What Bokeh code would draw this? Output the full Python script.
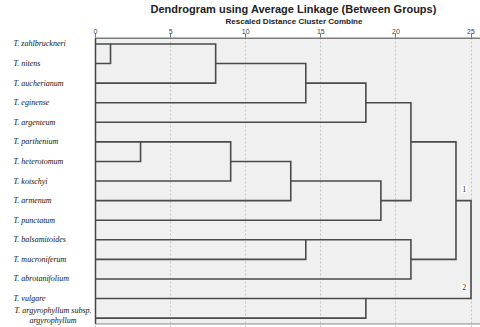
from bokeh.plotting import figure
from bokeh.models import Range1d, FixedTicker, Title, Label
from bokeh.embed import file_html
from bokeh.resources import INLINE
from bokeh.core.properties import value

# ---------------- data ----------------
species = [
    "T. zahlbruckneri", "T. nitens", "T. aucherianum", "T. eginense",
    "T. argenteum", "T. parthenium", "T. heterotomum", "T. kotschyi",
    "T. armenum", "T. punctatum", "T. balsamitoides", "T. mucroniferum",
    "T. abrotanifolium", "T. vulgare", "T. argyrophyllum subsp.\nargyrophyllum",
]
# agglomeration schedule (leaves 0..14, new clusters numbered 15, 16, ...)
merge_left = [0, 15, 16, 17, 5, 19, 20, 21, 18, 10, 24, 23, 13, 26]
merge_right = [1, 2, 3, 4, 6, 7, 8, 9, 22, 11, 12, 25, 14, 27]
merge_height = [1, 8, 14, 18, 3, 9, 13, 19, 21, 14, 21, 24, 18, 25]
x_ticks = [0, 5, 10, 15, 20, 25]
cluster_labels = ["1", "2"]
title_text = "Dendrogram using Average Linkage (Between Groups)"
subtitle_text = "Rescaled Distance Cluster Combine"

# ---------------- dendrogram geometry ----------------
n = len(species)
pos = list(range(n))
hgt = [0.0] * n
xs, ys = [], []
for a, b, h in zip(merge_left, merge_right, merge_height):
    xs.append([hgt[a], h, h, hgt[b]])
    ys.append([pos[a], pos[a], pos[b], pos[b]])
    pos.append((pos[a] + pos[b]) // 2)
    hgt.append(h)

# ---------------- figure ----------------
W, H = 480, 327
PX = 15.02          # pixels per distance unit
LEFT = 95           # pixel where distance 0 sits
x_start = -LEFT / PX
x_end = (W - LEFT) / PX
top_y = -0.3
bot_y = n - 1 + 0.3

p = figure(width=W, height=H, title=None,
           x_range=Range1d(x_start, x_end),
           y_range=Range1d(bot_y + 0.18, top_y - 0.03),
           x_axis_location="above", y_axis_location=None,
           output_backend="svg", toolbar_location=None, min_border=0)
p.outline_line_color = None
p.background_fill_color = "white"
p.border_fill_color = "white"

ticker = FixedTicker(ticks=x_ticks)
ax = p.xaxis[0]
ax.ticker = ticker
ax.axis_line_color = None
ax.major_tick_in = 0
ax.major_tick_out = 4
ax.minor_tick_out = 0
ax.minor_tick_in = 0
ax.major_tick_line_color = "#777777"
ax.major_label_text_font_size = "7px"
ax.major_label_text_font = "Liberation Sans"
ax.major_label_text_color = "#444444"
ax.major_label_standoff = 0

p.ygrid.visible = False
p.xgrid.ticker = ticker
p.xgrid.grid_line_color = "#c4c4c4"
p.xgrid.grid_line_dash = "2 2"
p.xgrid.grid_line_width = 1

# plot background
p.quad(left=[0], right=[x_end], top=[top_y], bottom=[bot_y],
       fill_color="#f0f0f0", line_color=None, level="image")

# borders
p.segment(x0=[0], y0=[top_y], x1=[0], y1=[bot_y], line_color="#444444", line_width=1.5)
p.segment(x0=[0], y0=[top_y], x1=[x_end], y1=[top_y], line_color="#555555", line_width=1.5)
p.segment(x0=[0], y0=[bot_y], x1=[x_end], y1=[bot_y], line_color="#8a8a8a", line_width=1)

# dendrogram links
p.multi_line(xs=xs, ys=ys, line_color="#4a4a4a", line_width=1.6, line_join="miter")

# leaf labels
lab_x = x_start + 13 / PX
one_rows = [i for i, s in enumerate(species) if "\n" not in s]
multi_rows = [i for i, s in enumerate(species) if "\n" in s]
p.text(x=[lab_x] * len(one_rows), y=one_rows, text=[species[i] for i in one_rows],
       text_font=value("Liberation Serif"), text_font_style="italic",
       text_font_size="8px", text_align="left", text_baseline="middle",
       text_color="#111111")
p.text(x=[x_start + 52.5 / PX] * len(multi_rows), y=[r - 0.12 for r in multi_rows],
       text=[species[i] for i in multi_rows],
       text_font=value("Liberation Serif"), text_font_style="italic",
       text_font_size="8px", text_align="center", text_baseline="middle",
       text_color="#111111", text_line_height=1.1)

# cluster number labels at the two final branches
last_a, last_b = merge_left[-1], merge_right[-1]
for lab, c in zip(cluster_labels, [last_a, last_b]):
    p.add_layout(Label(x=merge_height[-1] - 0.45, y=pos[c] - 0.6, text=lab,
                       text_font="Liberation Serif", text_font_size="8px",
                       text_align="center", text_baseline="middle",
                       text_color="#333333", background_fill_color="white",
                       padding=1))

# titles
p.add_layout(Title(text=subtitle_text, text_font_size="8px", text_font="Liberation Sans",
                   text_font_style="bold", align="left", offset=225, standoff=0,
                   text_color="#222222"), "above")
p.add_layout(Title(text=title_text, text_font_size="11px", text_font="Liberation Sans",
                   text_font_style="bold", align="left", offset=150, standoff=0,
                   text_color="#222222"), "above")

open("out.html", "w").write(file_html(p, INLINE))
